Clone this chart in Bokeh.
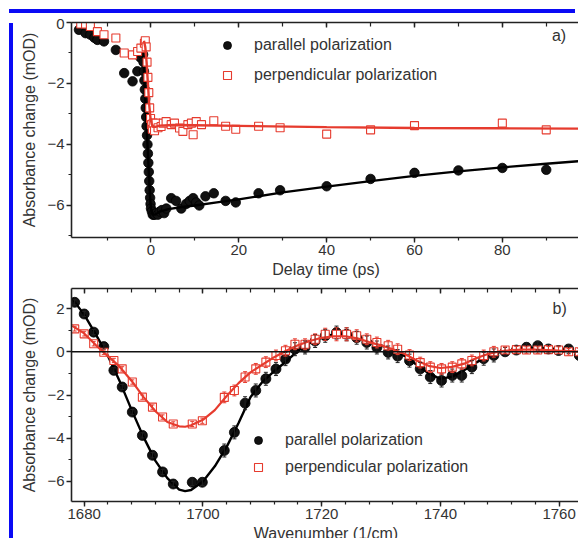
from bokeh.plotting import figure
from bokeh.models import (ColumnDataSource, LinearAxis, SingleIntervalTicker, Range1d,
                          Legend, LegendItem, Label, Span, Whisker, TeeHead, Div, Spacer,
                          CustomJSTickFormatter)
from bokeh.layouts import column, row
from bokeh.embed import file_html
from bokeh.resources import INLINE

# ---------------- panel a) : kinetics ----------------
t_par = [-16.4, -14.9, -13.8, -12.9, -12.2, -10.7, -8.0, -6.1, -4.2, -3.1, -2.4, -2.1,
         -1.9, -1.8, -1.7, -1.6, -1.5, -1.4, -1.3, -1.2, -1.1, -1.0, -0.9, -0.8, -0.7,
         -0.6, -0.5, -0.4, -0.3, -0.2, -0.1, 0.0, 0.2, 0.4, 0.6, 0.9, 1.2, 1.6, 2.0, 2.5,
         3.0, 3.5, 4.6, 5.7, 6.9, 8.0, 8.8, 9.6, 10.3, 11.0, 12.4, 14.3, 17.0, 19.3, 24.5,
         29.4, 40, 50, 60, 70, 80, 90]
a_par = [-0.24, -0.35, -0.40, -0.50, -0.57, -0.62, -0.90, -1.66, -1.93, -1.60, -1.15, -0.95,
         -0.85, -1.05, -1.30, -1.60, -1.90, -2.20, -2.50, -2.80, -3.10, -3.40, -3.70, -4.00, -4.30,
         -4.60, -4.90, -5.20, -5.50, -5.75, -5.95, -6.10, -6.20, -6.30, -6.30, -6.30, -6.25, -6.30, -6.20, -6.15,
         -6.25, -6.10, -5.76, -5.85, -6.10, -5.95, -5.85, -5.76, -5.90, -6.00, -5.70, -5.60, -5.85, -5.90, -5.60,
         -5.50, -5.37, -5.13, -4.93, -4.85, -4.77, -4.83]
t_perp = [-16.0, -14.9, -13.8, -12.2, -10.7, -8.0, -6.1, -4.2, -3.05, -2.3,
          -1.5, -1.3, -1.1, -0.9, -0.7, -0.5, -0.3, -0.1, 0.1, 0.3,
          0.5, 0.8, 1.15, 1.6, 2.3, 2.8, 3.44, 4.6, 5.35, 6.5,
          7.26, 8.4, 9.2, 9.6, 10.3, 11.5, 14.3, 17.0, 19.3, 24.5,
          29.4, 40, 50, 60, 80, 90]
a_perp = [-0.05, -0.05, -0.13, -0.30, -0.40, -0.51, -1.00, -1.06, -0.95, -0.84,
          -0.68, -0.60, -0.80, -1.30, -1.80, -2.30, -2.80, -3.15, -3.35, -3.50,
          -3.30, -3.55, -3.30, -3.45, -3.41, -3.30, -3.25, -3.35, -3.30, -3.46,
          -3.57, -3.35, -3.30, -3.68, -3.25, -3.35, -3.22, -3.40, -3.50, -3.40,
          -3.45, -3.66, -3.52, -3.38, -3.30, -3.52]
fit_t_par = [-2.0, -1.8, -1.6, -1.4, -1.2, -1.0, -0.8, -0.6, -0.4, -0.2, 0.0, 0.4, 1.0, 2.0,
             4, 7, 10, 15, 20, 30, 40, 50, 60, 70, 80, 90, 98]
fit_a_par = [-0.9, -1.1, -1.6, -2.2, -2.8, -3.4, -4.0, -4.6, -5.2, -5.75, -6.1, -6.3, -6.3, -6.2,
             -6.12, -6.05, -6.0, -5.9, -5.8, -5.57, -5.38, -5.2, -5.03, -4.88, -4.75, -4.63, -4.54]
fit_t_perp = [-1.6, -1.3, -1.0, -0.7, -0.4, -0.1, 0.2, 0.6, 1.0, 2, 5, 10, 20, 40, 60, 80, 98]
fit_a_perp = [-0.6, -0.8, -1.3, -2.0, -2.7, -3.15, -3.35, -3.42, -3.42, -3.38, -3.36, -3.37,
              -3.39, -3.43, -3.46, -3.47, -3.48]

# ---------------- panel b) : spectra ----------------
wn = [1678.4, 1680.0, 1681.6, 1683.3, 1685.0, 1686.4, 1688.1, 1689.8, 1691.5, 1693.2,
      1695.0, 1698.2, 1699.9, 1703.6, 1705.3, 1707.1, 1708.9, 1710.6, 1712.3, 1713.9,
      1715.5, 1717.2, 1718.9, 1720.6, 1722.5, 1724.2, 1725.9, 1727.6, 1729.3, 1731.2,
      1732.8, 1734.8, 1736.6, 1738.3, 1740.2, 1742.0, 1743.6, 1745.3, 1747.3, 1749.0,
      1750.9, 1752.8, 1754.5, 1756.4, 1758.2, 1759.9, 1761.6, 1763.4]
s_par = [2.29, 1.75, 0.91, 0.24, -0.86, -1.63, -2.79, -3.87, -4.79, -5.56,
         -6.12, -6.04, -6.04, -4.57, -3.73, -2.38, -1.79, -1.25, -0.80, -0.34,
         0.12, 0.20, 0.50, 0.74, 0.89, 0.81, 0.65, 0.43, 0.20, -0.03,
         -0.20, -0.41, -0.79, -1.17, -1.33, -1.10, -1.10, -0.71, -0.32, -0.17,
         0.00, 0.08, 0.21, 0.28, 0.13, 0.06, 0.13, -0.17]
e_par = [0.12, 0.12, 0.12, 0.12, 0.12, 0.12, 0.12, 0.12, 0.12, 0.12,
         0.12, 0.15, 0.15, 0.30, 0.30, 0.30, 0.30, 0.30, 0.30, 0.30,
         0.30, 0.30, 0.30, 0.30, 0.30, 0.30, 0.30, 0.30, 0.30, 0.30,
         0.30, 0.30, 0.30, 0.30, 0.30, 0.30, 0.30, 0.30, 0.30, 0.30,
         0.20, 0.20, 0.20, 0.20, 0.20, 0.20, 0.20, 0.20]
s_perp = [1.06, 0.83, 0.37, -0.02, -0.40, -0.79, -1.40, -2.10, -2.56, -3.02,
          -3.34, -3.34, -3.19, -2.11, -1.79, -1.17, -0.79, -0.48, -0.17, 0.05,
          0.35, 0.35, 0.58, 0.81, 0.81, 0.81, 0.74, 0.58, 0.43, 0.28,
          0.12, -0.15, -0.50, -0.71, -0.79, -0.71, -0.56, -0.40, -0.17, 0.00,
          0.08, 0.10, 0.08, 0.08, 0.10, 0.08, 0.00, 0.00]
e_perp = [0.10, 0.10, 0.10, 0.10, 0.10, 0.10, 0.10, 0.10, 0.10, 0.10,
          0.10, 0.12, 0.12, 0.25, 0.25, 0.25, 0.25, 0.25, 0.25, 0.25,
          0.25, 0.25, 0.25, 0.28, 0.30, 0.30, 0.28, 0.25, 0.25, 0.25,
          0.25, 0.25, 0.25, 0.25, 0.25, 0.25, 0.25, 0.25, 0.25, 0.25,
          0.15, 0.15, 0.15, 0.15, 0.15, 0.15, 0.15, 0.15]
fit_wn = [1678, 1680, 1682, 1684, 1686, 1688, 1690, 1692, 1694, 1696, 1697, 1698, 1700,
          1702, 1704, 1706, 1708, 1710, 1712, 1714, 1716, 1718, 1720, 1722, 1724, 1726,
          1728, 1730, 1732, 1734, 1736, 1738, 1740, 1742, 1744, 1746, 1748, 1750, 1752,
          1754, 1756, 1758, 1760, 1762, 1764]
fit_par = [2.45, 1.72, 0.78, -0.2, -1.38, -2.7, -3.95, -5.05, -5.85, -6.38, -6.45, -6.4, -6.0,
           -5.3, -4.4, -3.3, -2.1, -1.4, -0.9, -0.45, 0.05, 0.4, 0.65, 0.8, 0.8, 0.7,
           0.5, 0.3, 0.1, -0.2, -0.6, -1.0, -1.25, -1.15, -0.85, -0.5, -0.2, -0.02, 0.08,
           0.15, 0.2, 0.15, 0.08, 0.05, -0.1]
fit_perp = [1.2, 0.85, 0.3, -0.2, -0.7, -1.35, -2.1, -2.75, -3.25, -3.45, -3.47, -3.4, -3.15,
            -2.7, -2.05, -1.45, -0.95, -0.6, -0.25, 0.05, 0.3, 0.5, 0.65, 0.72, 0.72, 0.62,
            0.45, 0.3, 0.12, -0.1, -0.4, -0.65, -0.75, -0.7, -0.55, -0.3, -0.1, 0.02, 0.08,
            0.1, 0.1, 0.08, 0.05, 0.03, 0.0]

label_par = "parallel polarization"
label_perp = "perpendicular polarization"

FONT = "Liberation Sans"
BLACK = "#111111"
RED = "#e63b2e"
TXT = "#333333"
BLUE = "#0a0af5"


def style(p, xint, xminor, yint, yminor, xlabel, ylabel):
    p.outline_line_color = None
    p.grid.visible = False
    for ax in (p.xaxis[0], p.yaxis[0]):
        ax.axis_line_width = 1.6
        ax.axis_line_color = "#222222"
        ax.major_tick_line_color = "#222222"
        ax.minor_tick_line_color = "#222222"
        ax.major_tick_line_width = 1.4
        ax.minor_tick_line_width = 1.2
        ax.major_tick_out = 5
        ax.major_tick_in = 0
        ax.minor_tick_out = 3
        ax.minor_tick_in = 0
        ax.major_label_text_font = FONT
        ax.major_label_text_font_size = "15px"
        ax.major_label_text_color = TXT
        ax.axis_label_text_font = FONT
        ax.axis_label_text_font_size = "16px"
        ax.axis_label_text_font_style = "normal"
        ax.axis_label_text_color = TXT
    p.xaxis[0].ticker = SingleIntervalTicker(interval=xint, num_minor_ticks=xminor)
    p.yaxis[0].ticker = SingleIntervalTicker(interval=yint, num_minor_ticks=yminor)
    p.xaxis[0].axis_label = xlabel
    p.yaxis[0].axis_label = ylabel
    p.xaxis[0].major_label_standoff = 2
    p.xaxis[0].axis_label_standoff = 3
    p.yaxis[0].major_label_standoff = 2
    p.yaxis[0].axis_label_standoff = 6
    top = LinearAxis(ticker=SingleIntervalTicker(interval=xint, num_minor_ticks=xminor),
                     formatter=CustomJSTickFormatter(code="return ''"))
    top.axis_line_width = 1.6
    top.axis_line_color = "#222222"
    top.major_tick_line_color = "#222222"
    top.minor_tick_line_color = "#222222"
    top.major_tick_line_width = 1.4
    top.minor_tick_line_width = 1.2
    top.major_tick_in = 5
    top.major_tick_out = 0
    top.minor_tick_in = 4
    top.minor_tick_out = 0
    top.major_label_standoff = -6
    top.major_label_text_font_size = "0px"
    p.add_layout(top, "above")


def legend(p, rp, rq, loc, spacing):
    lg = Legend(items=[LegendItem(label=label_par, renderers=[rp]),
                       LegendItem(label=label_perp, renderers=[rq])],
                location=loc, orientation="vertical", glyph_width=20, glyph_height=20,
                label_standoff=17, spacing=spacing, padding=0, margin=0,
                border_line_color=None, background_fill_alpha=0,
                label_text_font=FONT, label_text_font_size="16px",
                label_text_color=TXT, label_height=20)
    p.add_layout(lg)


# ---------- figure a ----------
p1 = figure(width=562, height=262, x_range=Range1d(-18.1, 97.8), y_range=Range1d(-7.05, 0),
            output_backend="svg", toolbar_location=None,
            min_border_left=53, min_border_right=0, min_border_top=4, min_border_bottom=41)
style(p1, 20, 2, 2, 2, "Delay time (ps)", "Absorbance change (mOD)")

src_par = ColumnDataSource(dict(x=t_par, y=a_par))
src_perp = ColumnDataSource(dict(x=t_perp, y=a_perp))
r1 = p1.scatter("x", "y", source=src_par, marker="circle", size=9.5,
                fill_color=BLACK, line_color="#000000", line_width=0.8)
p1.line(fit_t_par, fit_a_par, line_color="#000000", line_width=2.4)
r2 = p1.scatter("x", "y", source=src_perp, marker="square", size=8,
                fill_color="white", line_color=RED, line_width=1.1)
p1.line(fit_t_perp, fit_a_perp, line_color=RED, line_width=2.4)
legend(p1, r1, r2, (146, 152), 10)
p1.add_layout(Label(x=91.3, y=-0.42, text="a)", text_baseline="middle", text_align="left",
                    text_font=FONT, text_font_size="16px", text_color=TXT))

# ---------- figure b ----------
p2 = figure(width=562, height=268, x_range=Range1d(1677.86, 1763.6), y_range=Range1d(-6.93, 2.93),
            output_backend="svg", toolbar_location=None,
            min_border_left=53, min_border_right=0, min_border_top=8, min_border_bottom=47)
style(p2, 20, 5, 2, 2, "Wavenumber (1/cm)", "Absorbance change (mOD)")
p2.add_layout(Span(location=0, dimension="width", line_color="#111111", line_width=1.5))

up_par = [v + e for v, e in zip(s_par, e_par)]
lo_par = [v - e for v, e in zip(s_par, e_par)]
up_perp = [v + e for v, e in zip(s_perp, e_perp)]
lo_perp = [v - e for v, e in zip(s_perp, e_perp)]
sb_par = ColumnDataSource(dict(x=wn, y=s_par, up=up_par, lo=lo_par))
sb_perp = ColumnDataSource(dict(x=wn, y=s_perp, up=up_perp, lo=lo_perp))

p2.add_layout(Whisker(source=sb_par, base="x", upper="up", lower="lo", line_color="#222222",
                      line_width=1, level="glyph",
                      upper_head=TeeHead(size=4, line_color="#222222", line_width=1),
                      lower_head=TeeHead(size=4, line_color="#222222", line_width=1)))
q1 = p2.scatter("x", "y", source=sb_par, marker="circle", size=10,
                fill_color=BLACK, line_color="#000000", line_width=0.8)
p2.line(fit_wn, fit_par, line_color="#000000", line_width=2.4)
p2.add_layout(Whisker(source=sb_perp, base="x", upper="up", lower="lo", line_color=RED,
                      line_width=1, level="glyph",
                      upper_head=TeeHead(size=4, line_color=RED, line_width=1),
                      lower_head=TeeHead(size=4, line_color=RED, line_width=1)))
q2 = p2.scatter("x", "y", source=sb_perp, marker="square", size=8,
                fill_color="white", line_color=RED, line_width=1.1)
p2.line(fit_wn, fit_perp, line_color=RED, line_width=2.2)
legend(p2, q1, q2, (177, 24), 7)
p2.add_layout(Label(x=1758.9, y=2.0, text="b)", text_baseline="middle", text_align="left",
                    text_font=FONT, text_font_size="16px", text_color=TXT))

# ---------- page layout with the blue frame ----------
blue_top = Div(width=566, height=4, styles={"background-color": BLUE})
blue_left = Div(width=4, height=530, styles={"background-color": BLUE})
layout = row(Spacer(width=4, height=4),
             column(Spacer(width=4, height=4), blue_top,
                    row(blue_left, column(p1, p2))))

open("out.html", "w").write(file_html(layout, INLINE))
